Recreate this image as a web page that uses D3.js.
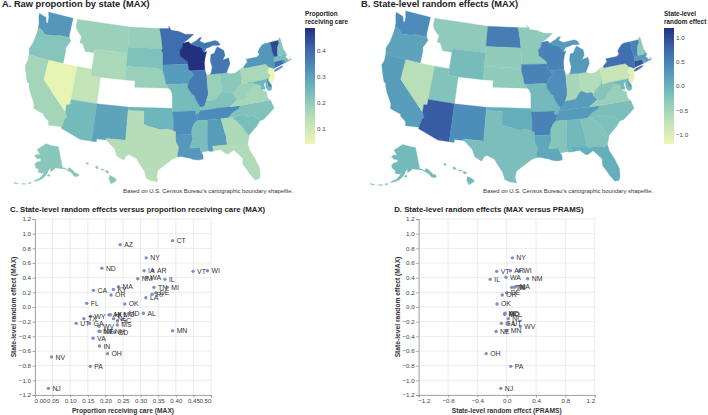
<!DOCTYPE html>
<html>
<head>
<meta charset="utf-8">
<script src="https://cdn.jsdelivr.net/npm/d3@7"></script>
<style>
  body { margin: 0; background: #fff; }
  svg { display: block; font-family: "Liberation Sans", Arial, sans-serif; }
  .title { font-weight: bold; fill: #222; }
  .axis-title { font-size: 6.7px; font-weight: bold; fill: #333; }
  .legend-title { font-size: 6.4px; font-weight: bold; fill: #222; }
  .note { font-size: 5.85px; fill: #333; }
  .tick text { font-size: 6.2px; fill: #444; }
  .pt-label { font-size: 6.9px; fill: #333; }
</style>
</head>
<body>
<svg id="chart" width="708" height="415"></svg>
<script>
// state values: proportion (MAX) and random effect (MAX)
// ID, CO, KS and ME have no estimate and stay white on the maps
const stateCodes = ["AK","AL","AR","AZ","CA","CT","DE","FL","GA","HI","IA","IL","IN","KY","LA","MA","MD","MI","MN","MO","MS","MT","NC","ND","NE","NH","NJ","NM","NV","NY","OH","OK","OR","PA","RI","SC","SD","TN","TX","UT","VA","VT","WA","WI","WV","WY"];
const proportionMax = [0.21,0.308,0.335,0.242,0.166,0.391,0.343,0.147,0.155,0.214,0.31,0.369,0.183,0.223,0.315,0.237,0.255,0.376,0.391,0.24,0.234,0.182,0.223,0.19,0.185,0.215,0.038,0.292,0.047,0.316,0.206,0.255,0.216,0.157,0.333,0.234,0.226,0.338,0.139,0.117,0.165,0.449,0.316,0.49,0.182,0.158];
const effectMax = [-0.107,-0.086,0.495,0.85,0.227,0.905,0.195,0.05,-0.223,-0.105,0.495,0.377,-0.532,0.24,0.127,0.277,-0.095,0.268,-0.323,-0.1,-0.245,-0.33,-0.159,0.53,-0.335,-0.335,-1.109,0.386,-0.682,0.67,-0.636,0.041,0.164,-0.809,0.175,-0.19,-0.345,0.268,-0.159,-0.223,-0.427,0.486,0.405,0.495,-0.264,-0.127];

// panel D: only these states have a PRAMS estimate
const pramsCodes = ["NY","VT","AR","WI","IL","WA","NM","TN","MI","MA","OR","DE","OK","AL","MD","MO","NC","GA","UT","NE","MN","WV","OH","PA","NJ"];
const pramsEffect = [0.077,-0.136,0.05,0.17,-0.224,-0.01,0.286,0.068,0.1,0.12,-0.06,0.0,-0.132,-0.02,-0.03,-0.025,0.02,-0.073,0.02,-0.145,0.0,0.186,-0.28,0.055,-0.08];

// tick labels
const proportionTicks = [0,0.05,0.1,0.15,0.2,0.25,0.3,0.35,0.4,0.45,0.5];
const effectTicks = [-1.2,-1,-0.8,-0.6,-0.4,-0.2,0,0.2,0.4,0.6,0.8,1,1.2];
const pramsTicks = [-1.2,-0.8,-0.4,0,0.4,0.8,1.2];

const rampColors = ["#edf6b4","#c6e5b6","#97cfba","#68b3bc","#4c8cba","#3a62a9","#23317f"];

// simplified state outlines, lon/lat
const stateShapes = {
  WA: [[[-124.7,48.4],[-123,48.1],[-122.6,47.3],[-122.3,47.4],[-122.4,48.2],[-122.8,49],[-117.03,49],[-117.04,46.4],[-116.92,45.99],[-118.98,46],[-119.3,45.93],[-120.5,45.7],[-121.2,45.65],[-122.3,45.55],[-122.8,45.9],[-123.2,46.15],[-124,46.27],[-124.1,46.9],[-124.6,47.9]]],
  OR: [[[-124,46.27],[-123.2,46.15],[-122.8,45.9],[-122.3,45.55],[-121.2,45.65],[-120.5,45.7],[-119.3,45.93],[-118.98,46],[-116.92,45.99],[-116.46,45.6],[-116.85,44.9],[-117.2,44.4],[-117.03,43.8],[-117.03,42],[-120,42],[-124.2,42],[-124.55,42.85],[-124.1,44],[-123.95,45.5]]],
  CA: [[[-124.2,42],[-120,42],[-120,39],[-114.63,35],[-114.14,34.3],[-114.5,33.9],[-114.72,32.72],[-117.12,32.53],[-117.3,33.1],[-118.4,33.75],[-118.5,34.03],[-119.2,34.15],[-120.5,34.45],[-120.65,35.15],[-121.9,36.6],[-122.5,37.5],[-122.5,37.8],[-123,38],[-123.8,39.3],[-124.35,40.3],[-124.1,41]]],
  NV: [[[-120,42],[-117.03,42],[-114.04,42],[-114.04,37],[-114.04,36.2],[-114.7,36.1],[-114.63,35],[-120,39]]],
  MT: [[[-116.05,49],[-104.05,49],[-104.05,45.94],[-104.05,45],[-111.05,45],[-111.05,44.48],[-113,44.45],[-113.8,45.5],[-114.5,45.6],[-114.35,46.65],[-114.7,46.7],[-115.7,47.45],[-116.05,48]]],
  WY: [[[-111.05,45],[-104.05,45],[-104.05,43],[-104.05,41],[-109.05,41],[-111.05,41],[-111.05,42],[-111.05,44.48]]],
  UT: [[[-114.04,42],[-111.05,42],[-111.05,41],[-109.05,41],[-109.05,37],[-114.04,37]]],
  AZ: [[[-114.04,37],[-109.05,37],[-109.05,31.33],[-111.07,31.33],[-114.81,32.5],[-114.72,32.72],[-114.5,33.9],[-114.14,34.3],[-114.63,35],[-114.7,36.1],[-114.04,36.2]]],
  NM: [[[-109.05,37],[-103,37],[-103.04,32],[-106.62,32],[-106.53,31.78],[-108.2,31.78],[-108.2,31.33],[-109.05,31.33]]],
  ND: [[[-104.05,49],[-97.23,49],[-96.85,47.6],[-96.56,45.94],[-104.05,45.94]]],
  SD: [[[-104.05,45.94],[-96.56,45.94],[-96.85,45.6],[-96.45,45.3],[-96.45,43.5],[-96.44,42.49],[-97.2,42.85],[-98.5,43],[-104.05,43],[-104.05,45]]],
  NE: [[[-104.05,43],[-98.5,43],[-97.2,42.85],[-96.44,42.49],[-96.1,41.7],[-95.85,40.7],[-95.77,40.58],[-95.31,40],[-102.05,40],[-102.05,41],[-104.05,41]]],
  OK: [[[-103,37],[-94.62,37],[-94.62,36.5],[-94.43,35.4],[-94.48,33.64],[-95.5,33.9],[-97,33.8],[-98.1,34.1],[-99.2,34.3],[-100,34.56],[-100,36.5],[-103,36.5]]],
  TX: [[[-103,36.5],[-100,36.5],[-100,34.56],[-99.2,34.3],[-98.1,34.1],[-97,33.8],[-95.5,33.9],[-94.48,33.64],[-94.04,33.55],[-94.04,33.02],[-94.04,32],[-93.55,31.2],[-93.75,30.3],[-93.84,29.7],[-94.7,29.4],[-95.9,28.6],[-97.2,27.7],[-97.4,26.8],[-97.15,25.96],[-98.2,26.06],[-99.1,26.4],[-99.5,27.5],[-100.4,28.6],[-101,29.4],[-102.3,29.88],[-102.7,29.7],[-103.15,28.98],[-104.4,29.55],[-104.9,30.6],[-106.53,31.78],[-106.62,32],[-103.04,32]]],
  MN: [[[-97.23,49],[-95.15,49],[-95.15,49.38],[-94.6,48.72],[-93,48.55],[-91.5,48.07],[-89.6,48],[-90.8,47.3],[-92.1,46.75],[-92.3,46.1],[-92.9,45.6],[-92.75,44.75],[-91.25,43.85],[-91.22,43.5],[-96.45,43.5],[-96.45,45.3],[-96.85,45.6],[-96.56,45.94],[-96.85,47.6]]],
  IA: [[[-96.45,43.5],[-91.22,43.5],[-91.1,42.7],[-90.64,42.5],[-90.15,41.9],[-91.05,41.2],[-91.42,40.38],[-91.73,40.61],[-95.77,40.58],[-95.85,40.7],[-96.1,41.7],[-96.44,42.49]]],
  MO: [[[-95.77,40.58],[-91.73,40.61],[-91.42,40.38],[-91.5,40],[-90.7,39],[-90.2,38.75],[-90.2,38.4],[-89.5,37.3],[-89.15,36.98],[-89.4,36.5],[-89.7,36],[-90.37,36],[-90.15,36.5],[-94.62,36.5],[-94.62,37],[-94.61,39.11],[-94.9,39.75],[-95.31,40]]],
  AR: [[[-94.62,36.5],[-90.15,36.5],[-90.37,36],[-89.7,36],[-90.1,35],[-90.6,34.6],[-91.1,33.8],[-91.17,33],[-94.04,33.02],[-94.04,33.55],[-94.48,33.64],[-94.43,35.4]]],
  LA: [[[-94.04,33.02],[-91.17,33],[-91,32.4],[-91.6,31],[-89.75,31],[-89.8,30.65],[-89.6,30.18],[-89.4,29.8],[-89.4,29.2],[-90.2,29.1],[-91.2,29.25],[-91.8,29.5],[-92.3,29.55],[-93.2,29.77],[-93.84,29.7],[-93.75,30.3],[-93.55,31.2],[-94.04,32]]],
  WI: [[[-92.1,46.75],[-90.8,46.9],[-90.4,46.55],[-89.1,46.15],[-88.1,45.9],[-87.8,45.35],[-87.6,45.1],[-87.05,45.25],[-87.5,44.4],[-87.75,43.6],[-87.8,42.49],[-90.64,42.5],[-91.1,42.7],[-91.22,43.5],[-91.25,43.85],[-92.75,44.75],[-92.9,45.6],[-92.3,46.1]]],
  IL: [[[-90.64,42.5],[-87.8,42.49],[-87.53,41.72],[-87.53,39.35],[-87.6,38.7],[-88.05,37.8],[-88.5,37.07],[-89.15,36.98],[-89.5,37.3],[-90.2,38.4],[-90.2,38.75],[-90.7,39],[-91.5,40],[-91.42,40.38],[-91.05,41.2],[-90.15,41.9]]],
  IN: [[[-87.53,41.72],[-86.8,41.76],[-84.8,41.73],[-84.82,39.1],[-85.4,38.7],[-86,38],[-87,37.9],[-88.05,37.8],[-87.6,38.7],[-87.53,39.35]]],
  OH: [[[-84.8,41.73],[-83.45,41.73],[-82.7,41.5],[-81.7,41.5],[-80.52,41.98],[-80.52,40.64],[-80.85,39.7],[-81.75,39.2],[-82.6,38.42],[-83,38.73],[-83.7,38.65],[-84.82,39.1]]],
  MI: [[[-86.8,41.76],[-84.8,41.73],[-83.45,41.73],[-83.1,42.2],[-82.5,43],[-82.6,43.9],[-83.9,43.7],[-83.3,44.3],[-83.4,45.1],[-84.7,45.78],[-85.1,45.4],[-85.5,44.85],[-86.25,44.7],[-86.5,43.7],[-86.25,42.8],[-86.6,41.95]],
       [[-90.4,46.55],[-89.1,47],[-88.4,47.4],[-87.9,47.45],[-88.4,46.9],[-87.4,46.5],[-86.1,46.65],[-85,46.75],[-84.4,46.5],[-84,46],[-84.7,45.95],[-85.5,46.05],[-86.5,45.8],[-87.05,45.75],[-87.6,45.1],[-87.8,45.35],[-88.1,45.9],[-89.1,46.15]]],
  KY: [[[-89.4,36.5],[-88.07,36.5],[-86,36.63],[-83.68,36.6],[-81.97,37.54],[-82.6,38.17],[-82.6,38.42],[-83,38.73],[-83.7,38.65],[-84.82,39.1],[-85.4,38.7],[-86,38],[-87,37.9],[-88.05,37.8],[-88.5,37.07],[-89.15,36.98]]],
  TN: [[[-89.7,36],[-89.4,36.5],[-88.07,36.5],[-86,36.63],[-83.68,36.6],[-81.68,36.59],[-82,36.1],[-83.1,35.77],[-84.3,35],[-85.6,34.98],[-88.2,35],[-90.1,35]]],
  MS: [[[-90.1,35],[-88.2,35],[-88.1,34.9],[-88.47,31.9],[-88.4,30.37],[-89.3,30.3],[-89.6,30.18],[-89.8,30.65],[-89.75,31],[-91.6,31],[-91,32.4],[-91.17,33],[-91.1,33.8],[-90.6,34.6]]],
  AL: [[[-88.2,35],[-85.6,34.98],[-85.18,32.87],[-85,32.3],[-85.05,31.55],[-85,31],[-87.6,31],[-87.5,30.3],[-88.05,30.25],[-88.4,30.37],[-88.47,31.9],[-88.1,34.9]]],
  GA: [[[-85.6,34.98],[-84.3,35],[-83.1,35],[-83.35,34.7],[-82.9,34.45],[-81.9,33.4],[-81.1,32.1],[-80.85,32.05],[-81.4,30.7],[-82.05,30.37],[-82.2,30.57],[-84.86,30.7],[-85,31],[-85.05,31.55],[-85,32.3],[-85.18,32.87]]],
  FL: [[[-87.6,31],[-85,31],[-84.86,30.7],[-82.2,30.57],[-82.05,30.37],[-81.4,30.7],[-81.25,29.8],[-80.55,28.4],[-80.05,26.9],[-80.15,25.75],[-80.4,25.2],[-81.1,25.15],[-81.8,26.1],[-82.2,26.9],[-82.75,27.8],[-82.65,28.7],[-83.4,29.5],[-84,30.1],[-85,29.6],[-85.4,29.7],[-86.3,30.4],[-87.5,30.3]]],
  SC: [[[-83.35,34.7],[-83.1,35],[-82.3,35.2],[-81.05,35.1],[-80.8,34.82],[-79.67,34.8],[-78.55,33.86],[-79.2,33.2],[-80.85,32.05],[-81.1,32.1],[-81.9,33.4],[-82.9,34.45]]],
  NC: [[[-84.3,35],[-83.1,35.77],[-82,36.1],[-81.68,36.59],[-75.87,36.55],[-75.5,35.3],[-76.5,34.7],[-77.9,33.9],[-78.55,33.86],[-79.67,34.8],[-80.8,34.82],[-81.05,35.1],[-82.3,35.2],[-83.1,35]]],
  VA: [[[-83.68,36.6],[-81.97,37.54],[-81.3,37.3],[-80.3,37.5],[-79.9,38.2],[-79.3,38.4],[-78.87,38.77],[-78.35,39.4],[-77.73,39.32],[-77.05,38.85],[-77.3,38.4],[-76.3,37.9],[-76.3,36.95],[-75.87,36.55],[-81.68,36.59]]],
  WV: [[[-82.6,38.42],[-82.6,38.17],[-81.97,37.54],[-81.3,37.3],[-80.3,37.5],[-79.9,38.2],[-79.3,38.4],[-78.87,38.77],[-78.35,39.4],[-77.73,39.32],[-78.4,39.62],[-79.48,39.72],[-80.52,39.72],[-80.52,40.64],[-80.85,39.7],[-81.75,39.2]]],
  PA: [[[-80.52,41.98],[-79.76,42.27],[-79.76,42],[-75.35,42],[-74.7,41.36],[-75.1,40.95],[-75.2,40.65],[-74.72,40.15],[-75.4,39.8],[-75.79,39.72],[-79.48,39.72],[-80.52,39.72],[-80.52,40.64]]],
  NY: [[[-79.76,42.27],[-78.9,42.85],[-79.05,43.27],[-76.8,43.3],[-76.2,43.55],[-76.3,44.1],[-75.3,44.85],[-74.7,45],[-73.35,45],[-73.35,44.2],[-73.4,43.6],[-73.27,42.75],[-73.5,42.05],[-73.55,41.3],[-73.73,41.1],[-73.9,41],[-74.7,41.36],[-75.35,42],[-79.76,42]],
       [[-74,40.6],[-73.7,40.88],[-72.3,41.15],[-71.9,41.05],[-72.6,40.8],[-73.6,40.58]]],
  NJ: [[[-74.7,41.36],[-73.9,41],[-74.1,40.7],[-74.25,40.5],[-74,40.4],[-74.1,39.75],[-74.9,38.95],[-75.5,39.5],[-75.4,39.8],[-74.72,40.15],[-75.2,40.65],[-75.1,40.95]]],
  DE: [[[-75.79,39.72],[-75.4,39.8],[-75.5,39.5],[-75.1,38.8],[-75.05,38.45],[-75.7,38.46]]],
  MD: [[[-79.48,39.72],[-75.79,39.72],[-75.7,38.46],[-75.05,38.45],[-75.25,38.03],[-75.9,37.95],[-76.2,38.6],[-76.1,39.4],[-76.5,39.1],[-76.4,38.3],[-77.3,38.4],[-77.05,38.85],[-77.73,39.32],[-78.35,39.4],[-78.4,39.62]]],
  CT: [[[-73.73,41.1],[-73.55,41.3],[-73.5,42.05],[-71.8,42.02],[-71.8,41.4],[-72.9,41.25]]],
  RI: [[[-71.8,42.02],[-71.38,42.02],[-71.15,41.5],[-71.8,41.4]]],
  MA: [[[-73.5,42.05],[-73.27,42.75],[-72.45,42.73],[-71.3,42.7],[-70.85,42.87],[-70.6,42.65],[-71,42.3],[-70.55,41.8],[-70,41.8],[-70.2,42.07],[-69.95,41.7],[-70.7,41.6],[-71.15,41.5],[-71.38,42.02],[-71.8,42.02]]],
  VT: [[[-73.35,45],[-71.5,45],[-71.6,44.5],[-72.05,44.1],[-72.45,43],[-72.45,42.73],[-73.27,42.75],[-73.4,43.6],[-73.35,44.2]]],
  NH: [[[-71.5,45],[-71.3,45.3],[-71.08,45.3],[-70.98,43.4],[-70.7,43.07],[-70.85,42.87],[-71.3,42.7],[-72.45,42.73],[-72.45,43],[-72.05,44.1],[-71.6,44.5]]],
  AK: [[[-141,69.65],[-141,60.3],[-139,60],[-137.5,58.9],[-135.5,59.8],[-133.4,58.4],[-131.8,56.6],[-130,56],[-130,55],[-131.8,55],[-133.5,55.5],[-134.8,57.3],[-136.5,58.2],[-139.5,59.6],[-142.5,60],[-145,60.4],[-147.5,60.8],[-148.5,60],[-151.8,59.2],[-151.5,60.8],[-150,61.2],[-152,60.6],[-153.5,59.6],[-154.5,58.4],[-156.5,57],[-158.5,56],[-160.5,55.4],[-163,54.8],[-164.8,54.6],[-162.5,55.6],[-160.5,56.2],[-158.5,57.5],[-157.2,58.7],[-159,58.5],[-162,58.7],[-162,59.9],[-164.5,60.5],[-166,61.6],[-164.7,63],[-161,63.6],[-161,64.6],[-165,64.5],[-168,65.6],[-164.2,66.5],[-162,66.2],[-163.5,67.1],[-166.5,68.3],[-163,69.5],[-160,70.4],[-156.5,71.3],[-152,70.8],[-148,70.4],[-145,70]],
       [[-154.6,57.4],[-152.4,57.3],[-152.3,58],[-153.3,58.1]],
       [[-168.2,53.3],[-166.2,53.5],[-166.5,54],[-168,53.7]],
       [[-172.5,52.3],[-170,52.7],[-170.2,53],[-172.5,52.6]],
       [[-178,51.6],[-175,52],[-175,52.2],[-178,52]]],
  HI: [[[-155.9,20.25],[-155.1,19.85],[-154.8,19.5],[-155.7,18.95],[-156.05,19.7]],
       [[-156.7,20.95],[-156.2,20.95],[-156,20.7],[-156.4,20.6]],
       [[-158.25,21.55],[-157.95,21.7],[-157.65,21.3],[-158.1,21.3]],
       [[-157.3,21.2],[-156.75,21.17],[-156.85,21.05],[-157.3,21.08]],
       [[-159.75,22.1],[-159.4,22.2],[-159.3,21.95],[-159.6,21.9]]]
};

const svg = d3.select("#chart");

// features with outer rings wound the way d3.geo wants them
function buildFeatures() {
  return Object.keys(stateShapes).map((code) => {
    const coordinates = stateShapes[code].map((ring) => {
      const closed = ring.concat([ring[0]]);
      const poly = { type: "Polygon", coordinates: [closed] };
      return d3.geoArea(poly) > 2 * Math.PI ? [closed.slice().reverse()] : [closed];
    });
    return { type: "Feature", id: code, geometry: { type: "MultiPolygon", coordinates } };
  });
}
const features = buildFeatures();

function colorRamp(domain) {
  const stops = rampColors.map((c, i) => domain[0] + (i / (rampColors.length - 1)) * (domain[1] - domain[0]));
  return d3.scaleLinear().domain(stops).range(rampColors);
}

function drawMap(opts) {
  const g = svg.append("g");
  const path = d3.geoPath(d3.geoAlbersUsa().scale(opts.scale).translate(opts.center));
  const lookup = new Map(stateCodes.map((c, i) => [c, opts.values[i]]));
  const color = colorRamp(opts.domain);

  g.selectAll("path")
    .data(features.filter((f) => lookup.has(f.id)))
    .join("path")
    .attr("d", (d) => path(d))
    .attr("fill", (d) => color(lookup.get(d.id)))
    .attr("stroke", (d) => color(lookup.get(d.id)))
    .attr("stroke-width", 0.3);

  g.append("text").attr("class", "title").attr("font-size", 9.3).attr("x", opts.titleX).attr("y", 7).text(opts.title);
  g.append("text").attr("class", "note").attr("x", opts.noteX).attr("y", 193).text("Based on U.S. Census Bureau's cartographic boundary shapefile.");

  // colour legend
  const gradId = "ramp-" + opts.id;
  const grad = svg.append("defs").append("linearGradient").attr("id", gradId).attr("x1", 0).attr("x2", 0).attr("y1", 1).attr("y2", 0);
  rampColors.forEach((c, i) => {
    grad.append("stop").attr("offset", i / (rampColors.length - 1)).attr("stop-color", c);
  });
  const legendScale = d3.scaleLinear().domain(opts.domain).range([144, 28]);
  g.append("rect").attr("x", opts.legendX).attr("y", 28).attr("width", 10).attr("height", 116).attr("fill", `url(#${gradId})`);
  const legendAxis = d3.axisRight(legendScale).tickValues(opts.legendTicks).tickSize(0).tickPadding(2).tickFormat(d3.format(".1f"));
  const la = g.append("g").attr("transform", `translate(${opts.legendX + 10},0)`).call(legendAxis);
  la.select(".domain").remove();
  opts.legendTitle.forEach((line, i) => {
    g.append("text").attr("class", "legend-title").attr("x", opts.legendX).attr("y", 16 + i * 8).text(line);
  });
}

function drawScatter(opts) {
  const g = svg.append("g").attr("transform", `translate(${opts.left},219)`);
  const size = opts.width;
  const x = d3.scaleLinear().domain(opts.xDomain).range([0, size]);
  const y = d3.scaleLinear().domain([-1.2, 1.2]).range([176, 0]);

  g.append("g").selectAll("line").data(opts.xTicks).join("line")
    .attr("x1", (d) => x(d)).attr("x2", (d) => x(d)).attr("y1", 0).attr("y2", 176).attr("stroke", "#e2e2e2").attr("stroke-width", 0.7);
  g.append("g").selectAll("line").data(effectTicks).join("line")
    .attr("x1", 0).attr("x2", size).attr("y1", (d) => y(d)).attr("y2", (d) => y(d)).attr("stroke", "#e2e2e2").attr("stroke-width", 0.7);

  const xAxis = g.append("g").attr("transform", "translate(0,176)")
    .call(d3.axisBottom(x).tickValues(opts.xTicks).tickSize(2.5).tickPadding(1.5).tickFormat(d3.format(opts.xFormat)));
  // first and last label sit flush with the axis ends
  xAxis.selectAll(".tick text")
    .attr("text-anchor", (d, i, n) => (i === 0 ? "start" : i === n.length - 1 ? "end" : "middle"))
    .attr("dx", (d, i, n) => (i === 0 ? -1 : 0));
  const yAxis = g.append("g").call(d3.axisLeft(y).tickValues(effectTicks).tickSize(2.5).tickPadding(1.5).tickFormat(d3.format(".1f")));
  [xAxis, yAxis].forEach((a) => {
    a.select(".domain").attr("stroke", "#888").attr("stroke-width", 0.7);
    a.selectAll(".tick line").attr("stroke", "#888").attr("stroke-width", 0.7);
  });

  const pts = g.append("g");
  pts.selectAll("circle").data(opts.points).join("circle")
    .attr("cx", (d) => x(d.x)).attr("cy", (d) => y(d.y)).attr("r", 1.7).attr("fill", "#7d8fc6");
  pts.selectAll("text").data(opts.points).join("text")
    .attr("class", "pt-label").attr("x", (d) => x(d.x) + 4).attr("y", (d) => y(d.y) + 2.5).text((d) => d.code);

  g.append("text").attr("class", "axis-title").attr("x", size / 2).attr("y", 194).attr("text-anchor", "middle").text(opts.xTitle);
  g.append("text").attr("class", "axis-title").attr("transform", "rotate(-90)").attr("x", -88).attr("y", -19).attr("text-anchor", "middle").text("State-level random effect (MAX)");
  g.append("text").attr("class", "title").attr("font-size", 7.8).attr("x", opts.titleX).attr("y", -7.5).text(opts.title);
}

drawMap({
  id: "a", scale: 380, center: [162, 97], values: proportionMax, domain: [0.038, 0.488],
  title: "A. Raw proportion by state (MAX)", titleX: 2, noteX: 123,
  legendX: 305, legendTicks: [0.1, 0.2, 0.3, 0.4], legendTitle: ["Proportion", "receiving care"]
});
drawMap({
  id: "b", scale: 385, center: [520.5, 97], values: effectMax, domain: [-1.2, 1.2],
  title: "B. State-level random effects (MAX)", titleX: 361, noteX: 483,
  legendX: 664, legendTicks: [-1, -0.5, 0, 0.5, 1], legendTitle: ["State-level", "random effect"]
});

drawScatter({
  left: 35, width: 176, xDomain: [0, 0.5], xTicks: proportionTicks, xFormat: ".2f",
  points: stateCodes.map((code, i) => ({ code, x: proportionMax[i], y: effectMax[i] })),
  xTitle: "Proportion receiving care (MAX)",
  title: "C. State-level random effects versus proportion receiving care (MAX)", titleX: -25
});
const effectByCode = new Map(stateCodes.map((c, i) => [c, effectMax[i]]));
drawScatter({
  left: 418.7, width: 176, xDomain: [-1.2, 1.2], xTicks: pramsTicks, xFormat: ".1f",
  points: pramsCodes.map((code, i) => ({ code, x: pramsEffect[i], y: effectByCode.get(code) })),
  xTitle: "State-level random effect (PRAMS)",
  title: "D. State-level random effects (MAX versus PRAMS)", titleX: -24.5
});
</script>
</body>
</html>
